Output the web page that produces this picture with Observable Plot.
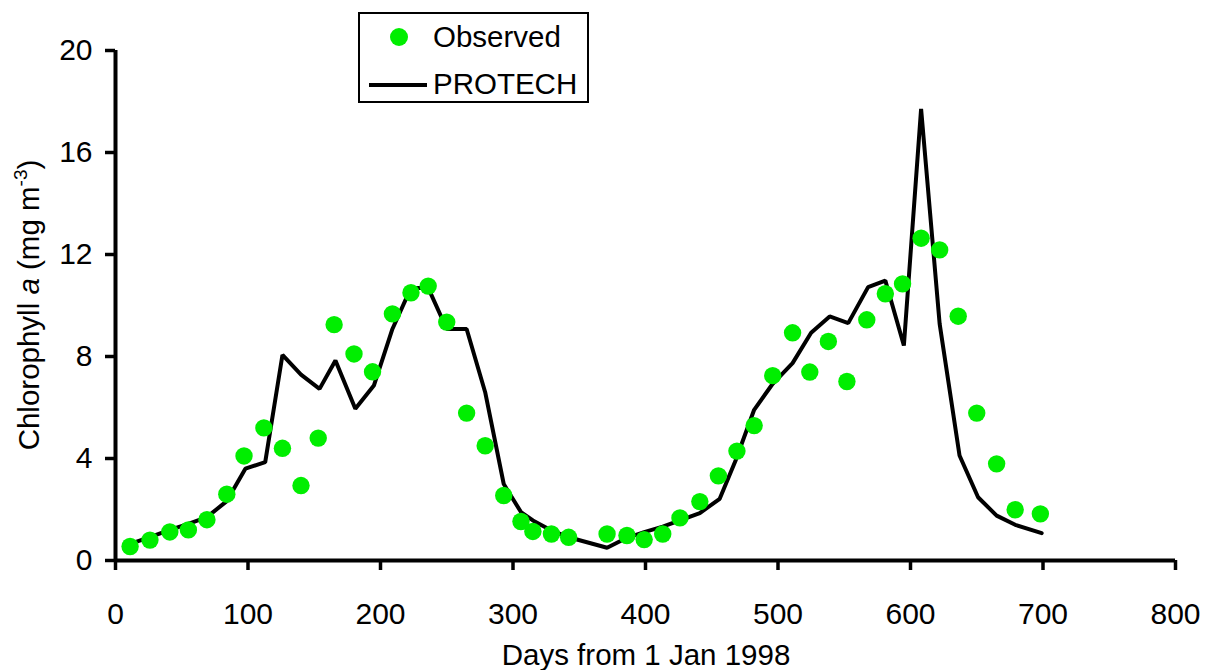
<!DOCTYPE html>
<html>
<head>
<meta charset="utf-8">
<script src="https://cdn.jsdelivr.net/npm/d3@7"></script>
<script src="https://cdn.jsdelivr.net/npm/@observablehq/plot@0.6"></script>
<style>
  body { margin: 0; background: #fff; }
  #wrap { position: relative; width: 1211px; height: 670px; font-family: "Liberation Sans", Arial, sans-serif; }
  #legend { position: absolute; left: 358px; top: 12px; width: 227px; height: 87px; border: 2px solid #000; background: #fff; }
  #legend .row { position: absolute; left: 0; font-size: 29.5px; line-height: 1; color: #000; white-space: nowrap; }
  #legend .dot { position: absolute; width: 18px; height: 18px; border-radius: 50%; background: #00ee00; }
  #legend .ln { position: absolute; height: 3.5px; background: #000; }
</style>
</head>
<body>
<div id="wrap"></div>
<script>
// Observed chlorophyll a (days from 1 Jan 1998, mg m-3)
const obsDays = [11,26,41,55,69,84,97,112,126,140,153,165,180,194,209,223,236,250,265,279,293,306,315,329,342,371,386,399,413,426,441,455,469,482,496,511,524,538,552,567,581,594,608,622,636,650,665,679,698];
const obsVals = [0.55,0.8,1.12,1.2,1.6,2.6,4.1,5.2,4.4,2.94,4.8,9.25,8.1,7.4,9.67,10.5,10.76,9.35,5.78,4.5,2.55,1.53,1.14,1.04,0.91,1.04,0.98,0.82,1.04,1.67,2.31,3.32,4.29,5.29,7.25,8.93,7.39,8.59,7.02,9.44,10.46,10.85,12.64,12.18,9.58,5.78,3.79,1.99,1.83];
// PROTECH model output
const modDays = [11,26,41,55,69,84,98,113,126,140,154,166,181,195,209,223,236,250,265,279,293,306,315,329,342,371,386,399,413,426,441,456,468,482,496,511,525,539,553,568,581,595,608,622,637,651,665,679,699];
const modVals = [0.65,0.92,1.2,1.44,1.7,2.33,3.6,3.86,8.06,7.29,6.73,7.84,5.95,6.86,9.08,10.69,10.69,9.08,9.08,6.6,3.0,1.9,1.57,1.18,0.91,0.5,0.89,1.11,1.33,1.57,1.86,2.42,3.92,5.91,6.93,7.74,8.93,9.57,9.31,10.72,10.98,8.43,17.71,9.28,4.12,2.48,1.76,1.4,1.07];
const xTicks = [0,100,200,300,400,500,600,700,800];
const yTicks = [0,4,8,12,16,20];
const xLabel = "Days from 1 Jan 1998";
const legendItems = ["Observed", "PROTECH"];

const observed = obsDays.map((d, i) => ({day: d, chl: obsVals[i]}));
const model = modDays.map((d, i) => ({day: d, chl: modVals[i]}));

const font = "'Liberation Sans', Arial, sans-serif";
const chart = Plot.plot({
  width: 1211,
  height: 670,
  marginTop: 50,
  marginBottom: 110,
  marginLeft: 115,
  marginRight: 36,
  style: {fontFamily: font, fontSize: "30px", color: "#000", background: "#fff", overflow: "visible"},
  x: {domain: [0, 800]},
  y: {domain: [0, 20]},
  marks: [
    Plot.axisX({ticks: xTicks, tickSize: 10, tickPadding: 32, strokeWidth: 3.5, fontSize: 30, label: null}),
    Plot.axisY({ticks: yTicks, tickSize: 10, tickPadding: 13, strokeWidth: 3.5, fontSize: 30, label: null}),
    Plot.ruleY([0], {stroke: "#000", strokeWidth: 4}),
    Plot.ruleX([0], {stroke: "#000", strokeWidth: 4}),
    Plot.line(model, {x: "day", y: "chl", stroke: "#000", strokeWidth: 4, strokeLinejoin: "miter"}),
    Plot.dot(observed, {x: "day", y: "chl", r: 8.7, fill: "#00ee00", stroke: "none"})
  ]
});
const wrap = document.getElementById("wrap");
wrap.appendChild(chart);

const svg = d3.select(chart);
// x-axis title
svg.append("text")
  .attr("x", 646).attr("y", 665)
  .attr("text-anchor", "middle")
  .attr("font-family", font)
  .attr("font-size", 29.5)
  .attr("fill", "#000")
  .text(xLabel);

// y-axis label with italic "a" and superscript
const yl = svg.append("text")
  .attr("transform", "translate(39,305) rotate(-90)")
  .attr("text-anchor", "middle")
  .attr("font-family", font)
  .attr("font-size", 29.5)
  .attr("fill", "#000");
yl.append("tspan").text("Chlorophyll ");
yl.append("tspan").attr("font-style", "italic").text("a");
yl.append("tspan").text(" (mg m");
yl.append("tspan").attr("font-size", 19).attr("dy", -12).text("-3");
yl.append("tspan").attr("dy", 12).text(")");

// legend
const lg = document.createElement("div");
lg.id = "legend";
lg.innerHTML = `
  <div class="dot" style="left:30px; top:14px;"></div>
  <div class="row" style="left:73px; top:8px;">${legendItems[0]}</div>
  <div class="ln" style="left:9px; width:58px; top:69px;"></div>
  <div class="row" style="left:73px; top:55px;">${legendItems[1]}</div>`;
wrap.appendChild(lg);
</script>
</body>
</html>
